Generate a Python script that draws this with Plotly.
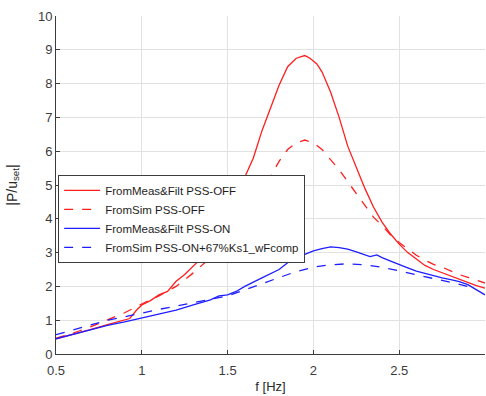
import plotly.graph_objects as go

f_meas_off = [0.5,0.6,0.7,0.8,0.9,0.93,0.97,1.0,1.05,1.1,1.15,1.2,1.25,1.3,1.35,1.4,1.45,1.5,1.55,1.6,1.65,1.7,1.75,1.8,1.85,1.9,1.95,1.98,2.02,2.05,2.1,2.15,2.2,2.25,2.3,2.35,2.4,2.45,2.5,2.55,2.6,2.65,2.7,2.75,2.8,2.85,2.9,2.95,3.0]
v_meas_off = [0.45,0.58,0.72,0.87,1.0,1.05,1.3,1.45,1.58,1.75,1.85,2.15,2.35,2.6,2.85,3.2,3.6,4.1,4.65,5.2,5.8,6.6,7.3,7.95,8.5,8.75,8.83,8.75,8.58,8.35,7.75,7.0,6.15,5.5,4.9,4.35,3.9,3.55,3.25,3.0,2.8,2.62,2.5,2.4,2.3,2.2,2.1,2.02,1.95]

f_sim_off = [0.5,0.6,0.7,0.8,0.9,1.0,1.1,1.2,1.3,1.4,1.45,1.5,1.55,1.6,1.65,1.7,1.75,1.8,1.85,1.9,1.95,2.0,2.05,2.1,2.15,2.2,2.25,2.3,2.35,2.4,2.45,2.5,2.55,2.6,2.65,2.7,2.75,2.8,2.85,2.9,2.95,3.0]
v_sim_off = [0.47,0.62,0.8,1.0,1.22,1.48,1.72,2.0,2.4,2.85,3.15,3.55,3.9,4.25,4.6,4.92,5.25,5.7,6.05,6.25,6.33,6.25,6.05,5.75,5.45,5.1,4.75,4.4,4.05,3.8,3.52,3.3,3.1,2.92,2.78,2.65,2.57,2.45,2.35,2.27,2.18,2.1]

f_meas_on = [0.5,0.6,0.7,0.8,0.9,1.0,1.1,1.2,1.3,1.4,1.45,1.5,1.55,1.6,1.7,1.8,1.85,1.9,1.95,2.0,2.05,2.1,2.15,2.2,2.25,2.3,2.33,2.37,2.4,2.45,2.5,2.55,2.6,2.65,2.7,2.75,2.8,2.85,2.9,2.95,3.0]
v_meas_on = [0.45,0.58,0.7,0.85,0.95,1.07,1.2,1.3,1.45,1.6,1.72,1.75,1.85,2.0,2.25,2.5,2.7,2.85,2.95,3.05,3.12,3.17,3.15,3.1,3.02,2.93,2.88,2.93,2.85,2.75,2.66,2.55,2.45,2.38,2.3,2.25,2.2,2.14,2.05,1.9,1.75]

f_sim_on = [0.5,0.6,0.7,0.8,0.9,1.0,1.1,1.2,1.3,1.4,1.5,1.6,1.7,1.8,1.9,2.0,2.1,2.2,2.3,2.4,2.5,2.6,2.7,2.8,2.9]
v_sim_on = [0.57,0.72,0.87,1.0,1.1,1.22,1.32,1.42,1.52,1.6,1.72,1.9,2.08,2.28,2.44,2.57,2.64,2.67,2.64,2.57,2.46,2.35,2.25,2.12,2.0]

names = ["FromMeas&Filt PSS-OFF", "FromSim PSS-OFF", "FromMeas&Filt PSS-ON", "FromSim PSS-ON+67%Ks1_wFcomp"]
x_ticks = [0.5, 1, 1.5, 2, 2.5, 3]
x_ticktext = ["0.5", "1", "1.5", "2", "2.5", "3"]
y_ticks = [0, 1, 2, 3, 4, 5, 6, 7, 8, 9, 10]

RED = "rgb(255,30,30)"
BLUE = "rgb(30,30,255)"

fig = go.Figure()
series = [
    (f_meas_off, v_meas_off, RED, "solid"),
    (f_sim_off, v_sim_off, RED, "dash"),
    (f_meas_on, v_meas_on, BLUE, "solid"),
    (f_sim_on, v_sim_on, BLUE, "dash"),
]
for (x, y, c, d), n in zip(series, names):
    fig.add_trace(go.Scatter(x=x, y=y, mode="lines", name=n,
                             line=dict(color=c, width=1.3, dash=d)))

axis_common = dict(showgrid=True, gridcolor="rgb(225,225,225)", gridwidth=1,
                   showline=True, linecolor="rgb(60,60,60)", linewidth=1,
                   ticks="inside", ticklen=4, tickcolor="rgb(60,60,60)",
                   zeroline=False, tickfont=dict(size=13, color="rgb(60,60,60)"),
                   mirror=False, automargin=False)

fig.update_layout(
    width=486, height=396,
    margin=dict(l=56, r=1, t=16, b=42),
    paper_bgcolor="white", plot_bgcolor="white",
    hovermode=False,
    font=dict(family="Liberation Sans, Arial, sans-serif", color="rgb(40,40,40)"),
    xaxis=dict(range=[0.5, 3], tickvals=x_ticks, ticktext=x_ticktext,
               ticklabelstandoff=4,
               title=dict(text="f [Hz]", font=dict(size=13, color="rgb(40,40,40)"), standoff=5),
               **axis_common),
    yaxis=dict(range=[0, 10], tickvals=y_ticks,
               title=dict(text="|P/u<sub>set</sub>|", font=dict(size=14, color="rgb(40,40,40)"), standoff=17),
               **axis_common),
    legend=dict(x=0.005, y=0.53, xanchor="left", yanchor="top",
                bgcolor="white", bordercolor="rgb(60,60,60)", borderwidth=1,
                font=dict(size=11.5, color="rgb(30,30,30)"),
                tracegroupgap=0, itemwidth=36),
    showlegend=True,
)

fig.write_html("out.html", config={"displayModeBar": False},
               post_script="document.body.style.margin='0';document.body.style.overflow='hidden';")
